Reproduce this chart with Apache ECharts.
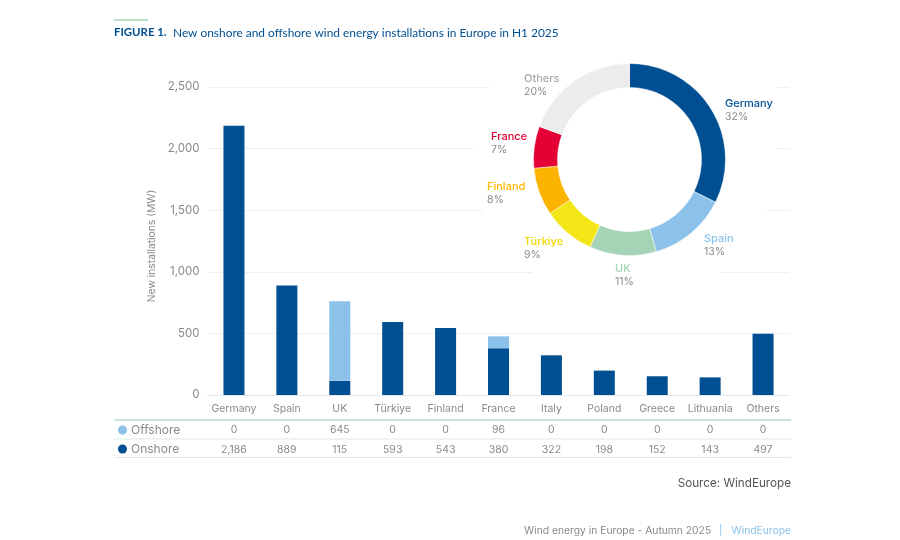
<!DOCTYPE html>
<html>
<head>
<meta charset="utf-8">
<style>html,body{margin:0;padding:0;background:#fff}#main{width:900px;height:540px}</style>
<script src="https://cdn.jsdelivr.net/npm/echarts@6/dist/echarts.min.js"></script>
</head>
<body>
<div id="main"></div>
<script>
// bar chart + table rows
const categories = ['Germany','Spain','UK','Türkiye','Finland','France','Italy','Poland','Greece','Lithuania','Others'];
const offshore = [0,0,645,0,0,96,0,0,0,0,0];
const onshore = [2186,889,115,593,543,380,322,198,152,143,497];
const yTicks = [0,500,1000,1500,2000,2500];

// donut
const shareNames = ['Germany','Spain','UK','Türkiye','Finland','France','Others'];
const shareMW = [2186,889,760,593,543,476,1312];
const sharePct = [32,13,11,9,8,7,20];
const shareColors = ['#004f92','#8cc2ea','#a5d3b5','#f3e616','#fdb400','#e40034','#ececec'];
const shareTextColors = ['#004f92','#8cc2ea','#a5d3b5','#f0d800','#fdb400','#e40034','#a8a8a8'];
const shareLabelPos = [[725,97],[704,232],[615,262],[524,235],[487,180],[491,130],[524,72]];

const FONT = 'Inter';
const GREY = '#8a8a8a';
const fmt = v => Number(v).toLocaleString('en-US');

function tableAxis(values, offset) {
    return {
        type:'category',
        position:'bottom',
        offset:offset,
        data:values.map(fmt),
        axisLine:{show:false},
        axisTick:{show:false},
        axisLabel:{interval:0, color:GREY, fontFamily:FONT, fontSize:10.5, margin:8}
    };
}
function rule(x1, y, x2, color, width) {
    return {type:'line', z:5, shape:{x1:x1,y1:y,x2:x2,y2:y}, style:{stroke:color,lineWidth:width}};
}
function mask(x, y, w) {
    return {type:'rect', z:1, shape:{x:x,y:y-3,width:w,height:6}, style:{fill:'#fff'}};
}

const chart = echarts.init(document.getElementById('main'));
chart.setOption({
    backgroundColor:'#fff',
    animation:false,
    textStyle:{fontFamily:FONT},
    grid:{left:207.5, right:110.5, top:87, height:308},
    legend:{
        left:113, top:419,
        orient:'vertical',
        icon:'circle',
        itemWidth:9, itemHeight:9, itemGap:7,
        data:['Offshore','Onshore'],
        textStyle:{color:GREY, fontFamily:FONT, fontSize:12, padding:[0,0,0,-1]}
    },
    xAxis:[
        {
            type:'category',
            data:categories,
            axisLine:{lineStyle:{color:'#e6e9ec'}},
            axisTick:{show:false},
            axisLabel:{interval:0, color:GREY, fontFamily:FONT, fontSize:10.5, margin:8}
        },
        tableAxis(offshore, 21),
        tableAxis(onshore, 41)
    ],
    yAxis:{
        type:'value',
        min:yTicks[0], max:yTicks[yTicks.length-1], interval:500,
        name:'New installations (MW)',
        nameLocation:'middle',
        nameGap:49,
        nameTextStyle:{color:GREY, fontFamily:FONT, fontSize:10.3, padding:[0,10,0,0]},
        axisLine:{show:false},
        axisTick:{show:false},
        splitLine:{lineStyle:{color:'#edf0f2'}},
        axisLabel:{color:GREY, fontFamily:FONT, fontSize:11.5, margin:8, formatter:fmt}
    },
    series:[
        {name:'Onshore', type:'bar', stack:'mw', barWidth:21, itemStyle:{color:'#004f92'}, data:onshore, z:3},
        {name:'Offshore', type:'bar', stack:'mw', barWidth:21, itemStyle:{color:'#8cc2ea'}, data:offshore, z:3},
        {
            type:'pie',
            center:[629.5,159.5],
            radius:[72,96],
            startAngle:90,
            clockwise:true,
            silent:true,
            z:4,
            itemStyle:{borderColor:'#fff', borderWidth:0.5},
            labelLine:{show:false},
            label:{show:true},
            labelLayout:params => {
                const p = shareLabelPos[params.dataIndex];
                return {x:p[0], y:p[1], align:'left', verticalAlign:'top'};
            },
            data:shareNames.map((name,i) => ({
                name:name,
                value:shareMW[i],
                itemStyle:{color:shareColors[i]},
                label:{
                    formatter:`{n|${name}}\n{p|${sharePct[i]}%}`,
                    rich:{
                        n:{color:shareTextColors[i], fontFamily:FONT, fontSize:11, fontWeight:500, lineHeight:13, align:'left'},
                        p:{color:GREY, fontFamily:FONT, fontSize:10.5, lineHeight:13, align:'left'}
                    }
                }
            }))
        }
    ],
    graphic:[
        mask(490,87,288), mask(474,148,303), mask(483,210,284), mask(532,271,190),
        rule(114,20,148,'#a5d3b5',1.5),
        rule(114,420,791,'#b7dcc6',1.5),
        rule(114,439,791,'#dcebe3',1),
        rule(114,457.5,791,'#dcebe3',1),
        {type:'text', z:6, left:114, top:27, style:{text:'FIGURE 1.', fill:'#004f92', font:'bold 11.4px Lato'}},
        {type:'text', z:6, left:173, top:27, style:{text:'New onshore and offshore wind energy installations in Europe in H1 2025', fill:'#004f92', font:'11.9px Lato'}},
        {type:'text', z:6, right:109, top:477, style:{text:'Source: WindEurope', fill:'#555', font:'11.7px '+FONT}},
        {type:'text', z:6, left:524, top:526, style:{text:'Wind energy in Europe - Autumn 2025', fill:GREY, font:'10.3px '+FONT}},
        {type:'text', z:6, left:719, top:526, style:{text:'|', fill:'#8cc2ea', font:'10.3px '+FONT}},
        {type:'text', z:6, right:109, top:526, style:{text:'WindEurope', fill:'#8cc2ea', font:'10.3px '+FONT}}
    ]
});
</script>
</body>
</html>
